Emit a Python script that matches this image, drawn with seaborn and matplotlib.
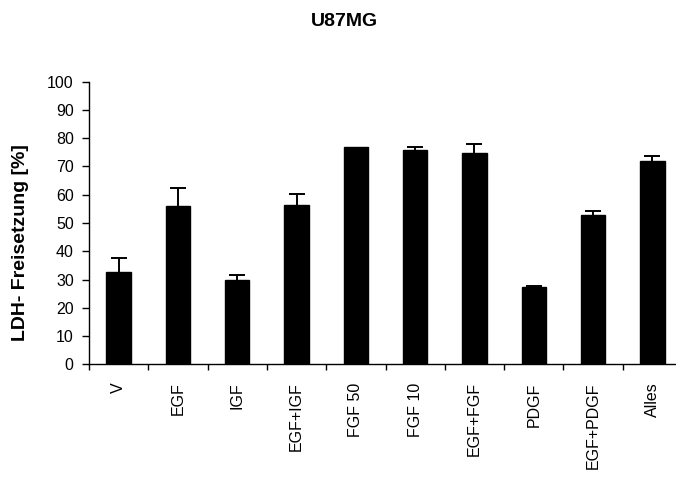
import matplotlib
matplotlib.use("Agg")
import matplotlib.pyplot as plt
import seaborn as sns
import numpy as np
import pandas as pd

# Treatment groups and measured LDH release (mean and upper error)
categories = ["V", "EGF", "IGF", "EGF+IGF", "FGF 50", "FGF 10",
              "EGF+FGF", "PDGF", "EGF+PDGF", "Alles"]
ldh_release = [32.8, 55.9, 29.9, 56.5, 77.0, 75.8, 74.7, 27.2, 52.7, 72.0]
ldh_error = [4.7, 6.6, 1.6, 3.7, 0.0, 1.1, 3.3, 0.6, 1.5, 1.6]
y_ticks = [0, 10, 20, 30, 40, 50, 60, 70, 80, 90, 100]

sns.set_theme(style="white")
plt.rcParams["font.family"] = ["Liberation Sans", "DejaVu Sans"]

df = pd.DataFrame({"Gruppe": categories, "LDH": ldh_release})

fig = plt.figure(figsize=(6.76, 4.84), dpi=100)
ax = fig.add_axes([89 / 676, 1 - 364.3 / 484, (682 - 89) / 676, (364.3 - 81.7) / 484])

sns.barplot(data=df, x="Gruppe", y="LDH", color="black", width=0.41,
            saturation=1, ax=ax, errorbar=None)
for p in ax.patches:
    p.set_edgecolor("black")

# Upper error bars only; skip groups without a measurable spread
xpos = np.arange(len(categories))
err = np.array(ldh_error)
mask = err > 0
_, caps, _ = ax.errorbar(xpos[mask], np.array(ldh_release)[mask],
                         yerr=[np.zeros(mask.sum()), err[mask]],
                         fmt="none", ecolor="black", elinewidth=1.4,
                         capsize=5.5, capthick=1.4)
caps[0].set_visible(False)

ax.set_xlim(-0.5, len(categories) - 0.5)
ax.set_ylim(0, 100)
ax.set_yticks(y_ticks)
ax.set_yticklabels([str(t) for t in y_ticks], fontsize=11.5, color="black")

# Category labels centred under bars; tick marks at group boundaries
ax.set_xticks(xpos)
ax.set_xticklabels(categories, rotation=90, fontsize=11.5, color="black")
ax.set_xticks(np.arange(len(categories) + 1) - 0.5, minor=True)
ax.tick_params(axis="x", which="major", length=0, pad=13)
ax.tick_params(axis="x", which="minor", length=4.5, width=1.0,
               color="black", direction="out", bottom=True)
ax.tick_params(axis="y", which="major", length=5, width=1.0,
               color="black", direction="out", left=True, pad=6)

for side in ["top", "right"]:
    ax.spines[side].set_visible(False)
for side in ["left", "bottom"]:
    ax.spines[side].set_color("black")
    ax.spines[side].set_linewidth(1.0)

ax.set_xlabel("")
ax.set_ylabel("")
fig.text(21 / 676, 1 - 243 / 484, "LDH- Freisetzung [%]", rotation=90,
         ha="center", va="center", fontsize=14, fontweight="bold",
         color="black")
fig.text(344 / 676, 1 - 21 / 484, "U87MG", ha="center", va="center",
         fontsize=14, fontweight="bold", color="black")

fig.savefig("out.png", dpi=100, facecolor="white")
